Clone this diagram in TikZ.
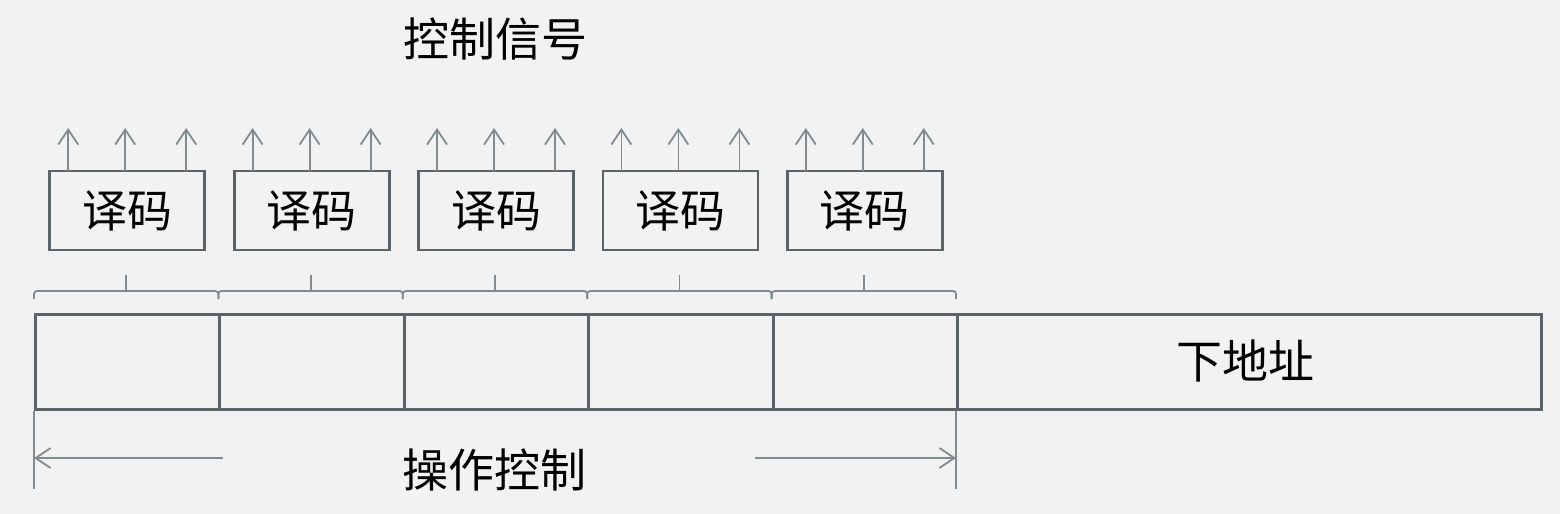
\documentclass[tikz,border=0pt]{standalone}
\usepackage{fontspec}
\newfontfamily\cjk{Noto Sans CJK SC}
\usetikzlibrary{arrows.meta,calc}
\definecolor{bg}{HTML}{F2F2F2}
\definecolor{thickc}{HTML}{5B6569}
\definecolor{thinc}{HTML}{808C91}
\tikzset{
  cell/.style={draw=thickc, line width=1.5pt, minimum height=47.5pt, inner sep=0pt, anchor=north west},
  decbox/.style={draw=thickc, line width=1.4pt, minimum width=77.5pt, minimum height=39.5pt, inner sep=0pt, font=\cjk\fontsize{22.5}{24}\selectfont},
  label/.style={font=\cjk\fontsize{23}{25}\selectfont, inner sep=0pt},
  thin/.style={draw=thinc, line width=0.9pt},
  upar/.style={thin, -{Straight Barb[length=7.5pt,width=10pt]}},
  brk/.style={thin, rounded corners=1.5pt},
}
\begin{document}
\begin{tikzpicture}[x=0.5pt,y=-0.5pt]
\fill[bg] (0,0) rectangle (1560,514);
\useasboundingbox (0,0) rectangle (1560,514);
% main row
\foreach \i/\xl in {1/34,2/218.4,3/402.8,4/587.2,5/771.6}{
  \node[cell, minimum width=92.2pt] (seg\i) at (\xl,313) {};
}
\node[cell, minimum width=292pt] (addr) at (956,313) {};
\node[label] (addrtxt) at (1245,361) {下地址};
% decoders, brackets, arrows
\foreach \i/\xc/\xl/\xr in {1/126.2/34/218.4,2/310.6/218.4/402.8,3/495/402.8/587.2,4/679.4/587.2/771.6,5/863.8/771.6/956}{
  \node[decbox] (dec\i) at (\xc+1,210.5) {译码};
  \draw[brk] (\xl,299) -- (\xl,291) -- (\xr,291) -- (\xr,299);
  \draw[thin] (\xc,291) -- (\xc,275);
  \foreach \d [count=\k] in {-58,-1,60}{
    \coordinate (t\i\k) at (\xc+\d,128);
    \draw[upar] (\xc+\d,171) -- (t\i\k);
  }
}
% bottom span
\coordinate (lb) at (34,489);
\coordinate (rb) at (956,489);
\draw[thin] (seg1.south west) -- (lb);
\draw[thin] (addr.south west) -- (rb);
\coordinate (la) at (223,458);
\coordinate (ra) at (755,458);
\draw[upar] (la) -- (34,458);
\draw[upar] (ra) -- (956,458);
\node[label] (op) at (494,470) {操作控制};
\node[label] (ctl) at (495,39) {控制信号};
\end{tikzpicture}
\end{document}
